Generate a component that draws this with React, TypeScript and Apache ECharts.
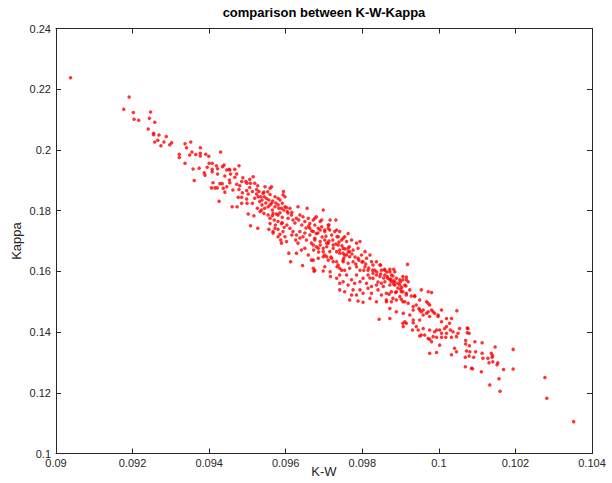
import React, { useEffect, useRef } from "react";
import * as echarts from "echarts";

const chartTitle = "comparison between K-W-Kappa";
const xName = "K-W";
const yName = "Kappa";
const xRange = [0.09, 0.104];
const yRange = [0.1, 0.24];

// [K-W, Kappa] pairs
const upperTail: number[][] = [
  [0.09038, 0.2238], [0.09191, 0.2174], [0.09177, 0.2134], [0.09202, 0.2123], [0.09247, 0.2125],
  [0.09204, 0.2101], [0.09216, 0.2098], [0.09244, 0.2104], [0.09258, 0.2091], [0.09241, 0.2069],
  [0.09255, 0.2055], [0.09255, 0.205], [0.09269, 0.2049], [0.09288, 0.2044], [0.09266, 0.2032],
  [0.09258, 0.2026], [0.09282, 0.2026], [0.09274, 0.2014], [0.09302, 0.2024], [0.09297, 0.2017],
  [0.09337, 0.202], [0.09352, 0.2026], [0.09341, 0.2007], [0.09377, 0.2007], [0.09355, 0.1993],
  [0.09322, 0.1986], [0.09322, 0.1975], [0.09349, 0.1983], [0.09365, 0.1985], [0.09377, 0.1989],
  [0.09377, 0.198], [0.09337, 0.1956], [0.09358, 0.1937], [0.09374, 0.194],
];

const upperBand: number[][] = [
  [0.09391, 0.1986], [0.09399, 0.1979], [0.0943, 0.1993], [0.09361, 0.1899], [0.09387, 0.1925],
  [0.09389, 0.1917], [0.09395, 0.1943], [0.094, 0.1956], [0.09408, 0.1956], [0.09408, 0.1936],
  [0.09408, 0.1928], [0.09419, 0.1948], [0.09422, 0.1938], [0.09422, 0.1921], [0.09435, 0.1945],
  [0.09439, 0.195], [0.09446, 0.1934], [0.09441, 0.1914], [0.09452, 0.1936], [0.09456, 0.1921],
  [0.09453, 0.1901], [0.09467, 0.1936], [0.09472, 0.1921], [0.09478, 0.1948], [0.09467, 0.191],
  [0.0941, 0.1892], [0.09406, 0.1875], [0.09415, 0.1875], [0.09421, 0.1875], [0.09428, 0.1889],
  [0.09434, 0.1889], [0.09437, 0.1874], [0.09446, 0.1879], [0.09441, 0.1861], [0.09454, 0.1892],
  [0.09426, 0.1831], [0.09472, 0.1887], [0.09478, 0.187], [0.09485, 0.1896], [0.09496, 0.1896],
  [0.09506, 0.1903], [0.09515, 0.1912], [0.09499, 0.189], [0.09508, 0.189], [0.09519, 0.189],
  [0.09506, 0.1876], [0.09487, 0.1859], [0.09476, 0.1844], [0.09485, 0.1844], [0.09498, 0.1866],
  [0.09502, 0.1855], [0.09513, 0.1863], [0.09524, 0.187], [0.09524, 0.1855], [0.0953, 0.1863],
  [0.09543, 0.1861], [0.09535, 0.1846], [0.09544, 0.1846], [0.0955, 0.184], [0.09559, 0.1853],
  [0.09498, 0.1838], [0.09499, 0.1824], [0.09513, 0.1824], [0.0946, 0.1813], [0.09473, 0.1813],
  [0.09485, 0.1824], [0.09532, 0.183], [0.09538, 0.1819], [0.09526, 0.1808], [0.09537, 0.1802],
  [0.09545, 0.1808], [0.09554, 0.1813], [0.09563, 0.1824], [0.09565, 0.1802], [0.09572, 0.1813],
  [0.0958, 0.1819], [0.0958, 0.1841], [0.09593, 0.1852], [0.09594, 0.1863], [0.09591, 0.1824],
  [0.09598, 0.1813], [0.09502, 0.1789], [0.09517, 0.1783], [0.09543, 0.1791], [0.09554, 0.1786],
  [0.09565, 0.1783], [0.09576, 0.1789], [0.09585, 0.1793], [0.09591, 0.1778], [0.0957, 0.1769],
  [0.0958, 0.1764], [0.09559, 0.1758], [0.09573, 0.1753], [0.09591, 0.176], [0.09596, 0.1745],
  [0.09508, 0.175], [0.09527, 0.1742], [0.09556, 0.1739], [0.0958, 0.1739], [0.09567, 0.1726],
  [0.09585, 0.1722], [0.09587, 0.1703],
  [0.09546, 0.1879], [0.09559, 0.1874], [0.09563, 0.1879], [0.09541, 0.1857], [0.09528, 0.1846],
  [0.09519, 0.1841], [0.09572, 0.1846], [0.09585, 0.1835], [0.09559, 0.1819], [0.09589, 0.1808],
  [0.09533, 0.1797], [0.09567, 0.1791], [0.0958, 0.1786], [0.09559, 0.1775], [0.09589, 0.1758],
  [0.09572, 0.1742], [0.09593, 0.1731], [0.09567, 0.1731], [0.0958, 0.1714], [0.09598, 0.1714],
  [0.09602, 0.1698], [0.09589, 0.1693],
];

const coreBand: number[][] = [
  [0.09602, 0.181], [0.09598, 0.1846], [0.09604, 0.1797], [0.09611, 0.1808], [0.09615, 0.1786],
  [0.09606, 0.1775], [0.09619, 0.1769], [0.09628, 0.1775], [0.09632, 0.1813], [0.09637, 0.1786],
  [0.09645, 0.178], [0.0965, 0.1764], [0.09656, 0.1808], [0.09659, 0.1775], [0.09663, 0.1758],
  [0.09672, 0.1769], [0.09676, 0.1753], [0.0968, 0.178], [0.0969, 0.1764], [0.09685, 0.1742],
  [0.09694, 0.1747], [0.09698, 0.1802], [0.09702, 0.1736], [0.09711, 0.1753], [0.09715, 0.1736],
  [0.0972, 0.172], [0.09731, 0.1769], [0.09728, 0.1731], [0.09734, 0.1714], [0.09741, 0.1731],
  [0.09746, 0.1703], [0.09754, 0.1714], [0.09759, 0.1698], [0.09763, 0.1725], [0.09766, 0.1681],
  [0.09611, 0.1742], [0.09619, 0.1731], [0.09628, 0.172], [0.09637, 0.1731], [0.09645, 0.1714],
  [0.09654, 0.1703], [0.09663, 0.172], [0.09667, 0.1693], [0.09676, 0.1703], [0.0968, 0.1681],
  [0.0969, 0.1687], [0.09698, 0.1676], [0.09707, 0.1681], [0.09715, 0.1665], [0.09724, 0.1676],
  [0.09733, 0.1665], [0.09741, 0.167], [0.0975, 0.166], [0.09759, 0.1654], [0.09767, 0.1665],
  [0.09632, 0.1693], [0.09628, 0.166], [0.09608, 0.166], [0.09641, 0.167], [0.0965, 0.1676],
  [0.09659, 0.1654], [0.09672, 0.1637], [0.09685, 0.1643], [0.09698, 0.1648], [0.09711, 0.1637],
  [0.09724, 0.1632], [0.09737, 0.1621], [0.0975, 0.1632], [0.09763, 0.1627], [0.09613, 0.1632],
  [0.09644, 0.1619], [0.09672, 0.161], [0.09698, 0.1601], [0.09734, 0.1615], [0.09746, 0.1604],
  [0.09767, 0.161],
  [0.09676, 0.1775], [0.09694, 0.1769], [0.09716, 0.1769], [0.09713, 0.1753], [0.09663, 0.1742],
  [0.09672, 0.1731], [0.0968, 0.1725], [0.0969, 0.1736], [0.09702, 0.1731], [0.09711, 0.1742],
  [0.09733, 0.1736], [0.09737, 0.1714], [0.0975, 0.1709], [0.09676, 0.1709], [0.0969, 0.1698],
  [0.09702, 0.1703], [0.09711, 0.1693], [0.09724, 0.1687], [0.09737, 0.1687], [0.0975, 0.1676],
  [0.09763, 0.1676], [0.09741, 0.166], [0.09754, 0.1654], [0.09767, 0.1648], [0.0975, 0.1637],
  [0.09733, 0.1632], [0.0972, 0.1643], [0.09707, 0.1648], [0.09698, 0.1665], [0.09685, 0.1676],
  [0.09672, 0.1687], [0.09667, 0.1637], [0.09676, 0.1604], [0.09702, 0.1615], [0.09716, 0.1599],
  [0.09741, 0.161], [0.09754, 0.1604], [0.09759, 0.1588], [0.09741, 0.1588], [0.09674, 0.16],
  [0.09741, 0.1561],
];

const denseCore: number[][] = [
  [0.09538, 0.1835], [0.09548, 0.1825], [0.09556, 0.1835], [0.09566, 0.1832], [0.09574, 0.1825],
  [0.09582, 0.1808], [0.09595, 0.1802], [0.09606, 0.1792], [0.09616, 0.1795], [0.09624, 0.1759],
  [0.09634, 0.1769], [0.09642, 0.1753], [0.09653, 0.1743], [0.0966, 0.1749], [0.09668, 0.1733],
  [0.09684, 0.1726], [0.09695, 0.1713], [0.09705, 0.1716], [0.09713, 0.17], [0.09723, 0.1703],
  [0.09731, 0.169], [0.09739, 0.1697], [0.09747, 0.1684], [0.09755, 0.1674], [0.09763, 0.1664],
  [0.09773, 0.1657], [0.09781, 0.1647], [0.09791, 0.1637], [0.09799, 0.1631], [0.09809, 0.1624],
  [0.09817, 0.1611], [0.09827, 0.1604], [0.09838, 0.1598], [0.09848, 0.1591], [0.09856, 0.1578],
  [0.09864, 0.1598], [0.09874, 0.1575], [0.09882, 0.1558], [0.09893, 0.1545], [0.09903, 0.1548],
  [0.09924, 0.1539], [0.09637, 0.171], [0.0965, 0.1726], [0.09626, 0.1703], [0.09616, 0.172],
  [0.09603, 0.1753], [0.09673, 0.167], [0.09686, 0.1664], [0.09702, 0.1654], [0.09718, 0.1647],
  [0.09707, 0.1693], [0.09752, 0.1644], [0.09783, 0.1624], [0.09804, 0.1604], [0.0982, 0.1578],
  [0.09841, 0.1565], [0.09454, 0.1934], [0.09488, 0.1908], [0.09527, 0.1882], [0.09553, 0.1862],
  [0.0948, 0.1882], [0.09462, 0.1868],
];

const lowerBand: number[][] = [
  [0.09772, 0.1703], [0.09785, 0.1693], [0.09794, 0.1698], [0.09776, 0.167], [0.09789, 0.1676],
  [0.09798, 0.1654], [0.09807, 0.1665], [0.09811, 0.1643], [0.0982, 0.1654], [0.09824, 0.1632],
  [0.09828, 0.1621], [0.09837, 0.1632], [0.09846, 0.1621], [0.0985, 0.1604], [0.09859, 0.1604],
  [0.09872, 0.1599], [0.09876, 0.1588], [0.09885, 0.1599], [0.09889, 0.1577], [0.09898, 0.1572],
  [0.09906, 0.1583], [0.09915, 0.1572], [0.09918, 0.1623], [0.09867, 0.1577], [0.09859, 0.1566],
  [0.09837, 0.1588], [0.09828, 0.1577], [0.09815, 0.1588], [0.09802, 0.1577], [0.09785, 0.1588],
  [0.09794, 0.1566], [0.0978, 0.1561], [0.09772, 0.1572], [0.09811, 0.1561], [0.09824, 0.155],
  [0.09837, 0.1555], [0.0985, 0.1561], [0.09872, 0.1555], [0.09885, 0.1555], [0.09898, 0.1555],
  [0.09911, 0.1555], [0.0992, 0.1566], [0.09876, 0.1533], [0.09863, 0.1528], [0.09889, 0.1533],
  [0.09902, 0.1533], [0.09915, 0.1522], [0.09898, 0.1517], [0.0988, 0.1511], [0.09906, 0.15],
  [0.09837, 0.15], [0.09802, 0.1498], [0.09789, 0.1502], [0.09772, 0.1522], [0.09776, 0.1539],
  [0.09802, 0.1528], [0.09824, 0.1528], [0.0985, 0.1522], [0.09767, 0.1506], [0.09754, 0.1533],
  [0.09763, 0.1555], [0.09741, 0.1539], [0.0975, 0.1566], [0.09717, 0.1583], [0.09733, 0.1577],
  [0.09776, 0.1632], [0.09785, 0.1615], [0.09794, 0.1604], [0.09807, 0.1615], [0.09802, 0.1632],
  [0.09789, 0.1643], [0.09815, 0.1604], [0.09833, 0.1604], [0.09828, 0.1594], [0.09846, 0.1583],
  [0.09872, 0.1572], [0.09885, 0.1566], [0.09855, 0.155], [0.09841, 0.1539], [0.09815, 0.1544],
  [0.09794, 0.1539], [0.09785, 0.1522], [0.0982, 0.1511], [0.09863, 0.1506],
  [0.09848, 0.1621], [0.09858, 0.1607], [0.09872, 0.1607], [0.09882, 0.1607], [0.09859, 0.1588],
  [0.09865, 0.1583], [0.0988, 0.1585], [0.09876, 0.1566], [0.09882, 0.1569], [0.09893, 0.1561],
  [0.099, 0.1566], [0.09906, 0.1572], [0.09914, 0.1552], [0.099, 0.1541], [0.09887, 0.153],
  [0.09906, 0.1533], [0.09915, 0.1528], [0.09928, 0.1519], [0.09937, 0.152], [0.0987, 0.1525],
  [0.09863, 0.15], [0.09876, 0.15], [0.09889, 0.1506], [0.09902, 0.1508], [0.09911, 0.15],
  [0.0992, 0.1495], [0.09933, 0.1484], [0.09948, 0.1478], [0.09954, 0.1467], [0.09959, 0.1473],
  [0.09968, 0.1462], [0.09976, 0.1451], [0.09985, 0.1467], [0.09998, 0.1456],
];

const lowerTail: number[][] = [
  [0.09915, 0.1581], [0.09954, 0.1539], [0.09972, 0.1533], [0.09937, 0.1517], [0.0995, 0.1506],
  [0.09941, 0.1489], [0.09933, 0.1473], [0.0995, 0.1473], [0.09968, 0.15], [0.09976, 0.1489],
  [0.09981, 0.1473], [0.09972, 0.1467], [0.09959, 0.1456], [0.09989, 0.1462], [0.10007, 0.1473],
  [0.09998, 0.1451], [0.10007, 0.1434], [0.1002, 0.1445], [0.10033, 0.1445], [0.10047, 0.147],
  [0.10028, 0.1429], [0.10015, 0.1412], [0.09994, 0.1407], [0.09985, 0.1385], [0.10007, 0.1396],
  [0.1002, 0.1396], [0.10037, 0.1401], [0.1005, 0.1396], [0.10054, 0.1412], [0.10076, 0.1412],
  [0.09972, 0.1379], [0.09954, 0.139], [0.09941, 0.1418], [0.0995, 0.144], [0.09933, 0.144],
  [0.09924, 0.1456], [0.09911, 0.1434], [0.09907, 0.1418], [0.09931, 0.1407], [0.09872, 0.1478],
  [0.09889, 0.1467], [0.09872, 0.1445], [0.09907, 0.1462], [0.09844, 0.1442], [0.09981, 0.153],
  [0.09972, 0.1495],
  [0.09906, 0.1429], [0.09915, 0.1429], [0.09933, 0.1431], [0.09946, 0.1407], [0.09959, 0.1412],
  [0.09976, 0.1407], [0.09989, 0.1401], [0.10002, 0.1407], [0.1002, 0.1418], [0.1003, 0.1407],
  [0.0995, 0.1387], [0.09963, 0.139], [0.09976, 0.1376], [0.09994, 0.1383], [0.10007, 0.1383],
  [0.10018, 0.1383], [0.10033, 0.1383], [0.10046, 0.1385], [0.10046, 0.1335],
  [0.10074, 0.1398], [0.10079, 0.1396], [0.10094, 0.1368], [0.10113, 0.1365], [0.10147, 0.1351],
  [0.10194, 0.1343], [0.10137, 0.133], [0.10139, 0.1317], [0.10141, 0.1302], [0.10154, 0.1299],
  [0.10152, 0.1292], [0.10128, 0.1314], [0.10115, 0.1314], [0.10113, 0.133], [0.10096, 0.1335],
  [0.10081, 0.1335], [0.10072, 0.1338], [0.10079, 0.1321], [0.10091, 0.1317], [0.10069, 0.1317],
  [0.10169, 0.1277], [0.10194, 0.1278], [0.10111, 0.1269], [0.10085, 0.1281], [0.10069, 0.1286],
  [0.10157, 0.1246], [0.10041, 0.1347], [0.10033, 0.1325], [0.09994, 0.1333], [0.09976, 0.133],
  [0.10002, 0.1357], [0.09981, 0.1368], [0.1007, 0.1372], [0.1007, 0.1361], [0.1008, 0.1355],
  [0.1014, 0.1323], [0.10131, 0.1299], [0.10088, 0.1279], [0.10133, 0.1226], [0.1016, 0.1205],
  [0.10277, 0.125], [0.10282, 0.1182], [0.10352, 0.1105], [0.10074, 0.1413],
];

const allPoints = [...upperTail, ...upperBand, ...coreBand, ...denseCore, ...lowerBand, ...lowerTail];

const FONT = "'Liberation Sans', Arial, Helvetica, sans-serif";
const AXIS_COLOR = "#262626";

export default function App() {
  const ref = useRef<HTMLDivElement>(null);
  useEffect(() => {
    if (!ref.current) return;
    const chart = echarts.init(ref.current, undefined, { renderer: "svg" });
    const axisLine = { show: true, lineStyle: { color: AXIS_COLOR, width: 1 } };
    const tick = { show: true, inside: true, length: 5, lineStyle: { color: AXIS_COLOR, width: 1 } };
    const fmtX = (v: number) => String(parseFloat(v.toFixed(3)));
    const fmtY = (v: number) => String(parseFloat(v.toFixed(2)));
    chart.setOption({
      animation: false,
      backgroundColor: "#ffffff",
      grid: { left: 56, right: 20, top: 28.5, bottom: 29.5, containLabel: false, outerBoundsMode: "none" },
      graphic: [
        {
          type: "text",
          x: 324,
          y: 12,
          style: {
            text: chartTitle,
            fontFamily: FONT,
            fontSize: 13,
            fontWeight: "bold",
            fill: "#000000",
            textAlign: "center",
            textVerticalAlign: "middle",
          },
        },
      ],
      xAxis: [
        {
          type: "value",
          min: xRange[0],
          max: xRange[1],
          interval: 0.002,
          position: "bottom",
          axisLine,
          axisTick: tick,
          splitLine: { show: false },
          axisLabel: { color: AXIS_COLOR, fontFamily: FONT, fontSize: 11, margin: 4, formatter: fmtX },
          name: xName,
          nameLocation: "middle",
          nameGap: 18,
          nameMoveOverlap: false,
          nameTextStyle: { color: AXIS_COLOR, fontFamily: FONT, fontSize: 13, verticalAlign: "middle" },
        },
        {
          type: "value",
          min: xRange[0],
          max: xRange[1],
          interval: 0.002,
          position: "top",
          axisLine,
          axisTick: tick,
          splitLine: { show: false },
          axisLabel: { show: false },
        },
      ],
      yAxis: [
        {
          type: "value",
          min: yRange[0],
          max: yRange[1],
          interval: 0.02,
          position: "left",
          axisLine,
          axisTick: tick,
          splitLine: { show: false },
          axisLabel: { color: AXIS_COLOR, fontFamily: FONT, fontSize: 11, margin: 5, formatter: fmtY },
          name: yName,
          nameLocation: "middle",
          nameGap: 40,
          nameMoveOverlap: false,
          nameTextStyle: { color: AXIS_COLOR, fontFamily: FONT, fontSize: 13, verticalAlign: "middle" },
        },
        {
          type: "value",
          min: yRange[0],
          max: yRange[1],
          interval: 0.02,
          position: "right",
          axisLine,
          axisTick: tick,
          splitLine: { show: false },
          axisLabel: { show: false },
        },
      ],
      series: [
        {
          type: "scatter",
          xAxisIndex: 0,
          yAxisIndex: 0,
          data: allPoints,
          symbol: "circle",
          symbolSize: 3.5,
          itemStyle: { color: "#ff0000" },
        },
      ],
    });
    return () => chart.dispose();
  }, []);
  return (
    <div
      ref={ref}
      style={{ position: "absolute", left: 0, top: 0, width: 612, height: 483, background: "#fff" }}
    />
  );
}
